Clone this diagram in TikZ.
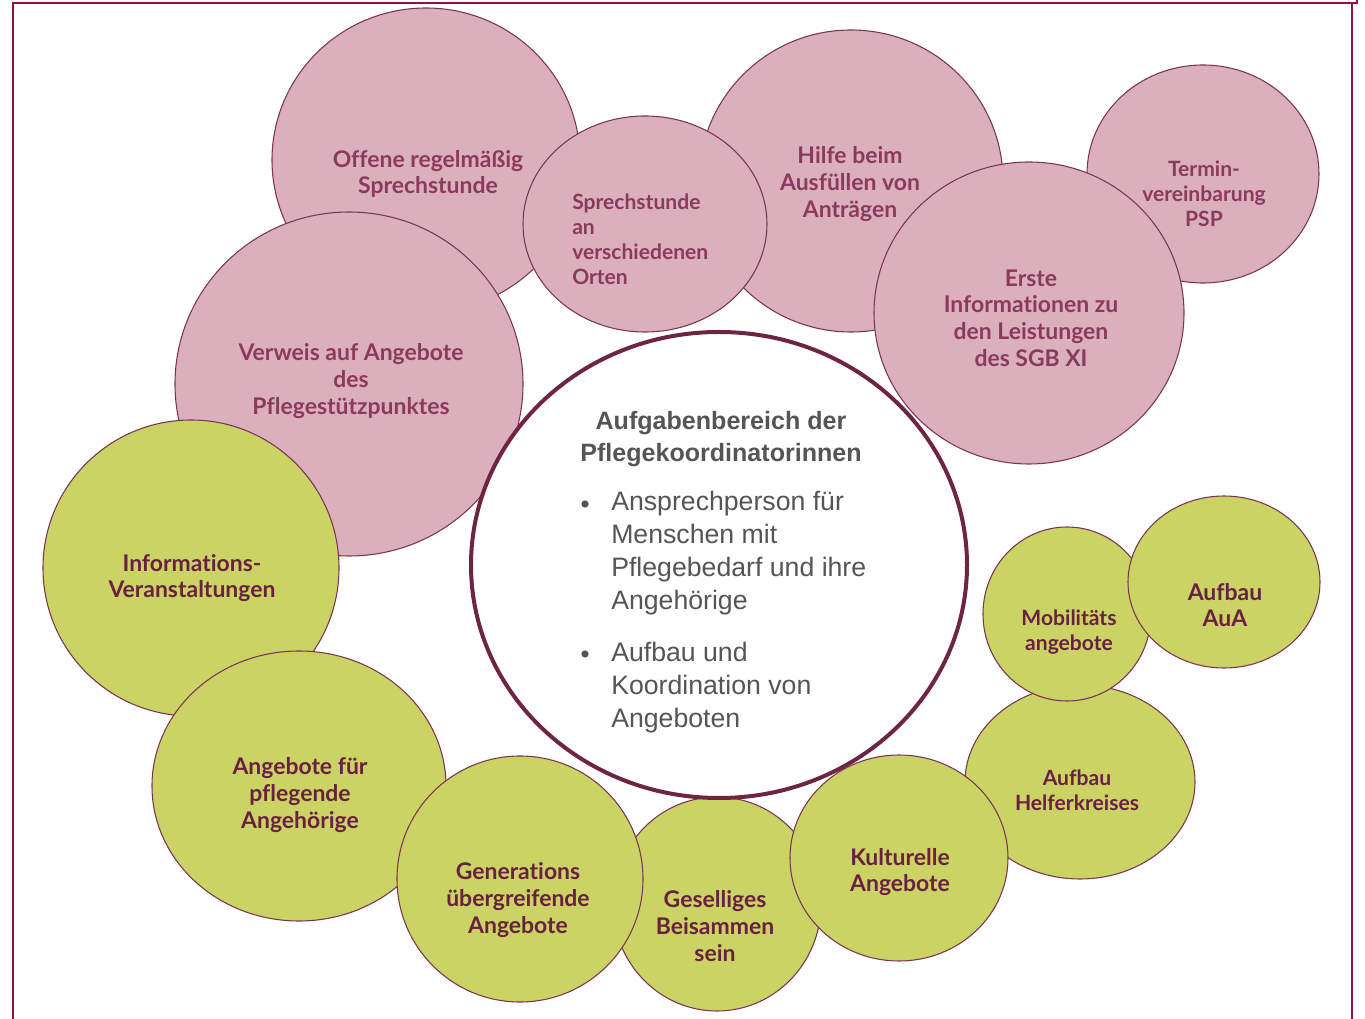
\documentclass[tikz,border=0pt]{standalone}
\usepackage{fontspec}
\setmainfont{Lato}[Ligatures=NoCommon]
\newfontfamily\ctrfont{Liberation Sans}
\definecolor{framec}{HTML}{8E1046}
\definecolor{pinkfill}{HTML}{DBB0BC}
\definecolor{greenfill}{HTML}{CBD364}
\definecolor{edgec}{HTML}{7A3554}
\definecolor{ctredge}{HTML}{6E2444}
\definecolor{pinktext}{HTML}{8A3A5C}
\definecolor{greentext}{HTML}{6A2042}
\definecolor{greytext}{HTML}{555555}
\tikzset{
  pinkc/.style={fill=pinkfill, draw=edgec, line width=0.8pt},
  greenc/.style={fill=greenfill, draw=edgec, line width=0.8pt},
  ctrc/.style={fill=white, draw=ctredge, line width=3pt},
  plabel/.style={text=pinktext, align=center, font=\bfseries\fontsize{17.2}{20}\selectfont, inner sep=0pt},
  glabel/.style={text=greentext, align=center, font=\bfseries\fontsize{17.2}{20}\selectfont, inner sep=0pt},
  smallfont/.style={font=\bfseries\fontsize{15.8}{18.75}\selectfont},
  framel/.style={draw=framec, line width=2pt},
  ctitle/.style={text=greytext, align=center, font=\ctrfont\bfseries\fontsize{18.8}{24}\selectfont, inner sep=0pt},
  cbody/.style={text=greytext, align=left, font=\ctrfont\fontsize{20}{24.75}\selectfont, inner sep=0pt, anchor=north west},
  cbullet/.style={fill=greytext, circle, inner sep=0pt, minimum size=5.5pt}
}
\begin{document}
\begin{tikzpicture}[x=0.75pt, y=-0.75pt]
\useasboundingbox (0,0) rectangle (1365,1019);
% frame
\draw[framel] (13,1019) -- (13,3) -- (1357,3);
\draw[framel] (1352,4) -- (1352,1019);
\draw[draw=framec, line width=1pt] (1357,0) -- (1357,4);
% pink circles
\draw[pinkc] (426,160) ellipse [x radius=154*0.75pt, y radius=152*0.75pt];
\draw[pinkc] (851,181) ellipse [x radius=152*0.75pt, y radius=151*0.75pt];
\draw[pinkc] (645,224) ellipse [x radius=122*0.75pt, y radius=108*0.75pt];
\draw[pinkc] (1203,174) ellipse [x radius=116*0.75pt, y radius=109*0.75pt];
\draw[pinkc] (1029,313) ellipse [x radius=155*0.75pt, y radius=151*0.75pt];
\draw[pinkc] (349,384) ellipse [x radius=174*0.75pt, y radius=172*0.75pt];
% green circles
\draw[greenc] (191,568) ellipse [x radius=148*0.75pt, y radius=148*0.75pt];
\draw[greenc] (299,786) ellipse [x radius=147*0.75pt, y radius=135*0.75pt];
\draw[greenc] (717,904) ellipse [x radius=104*0.75pt, y radius=107*0.75pt];
\draw[greenc] (520,879) ellipse [x radius=123*0.75pt, y radius=123*0.75pt];
\draw[greenc] (1080,782) ellipse [x radius=115*0.75pt, y radius=97*0.75pt];
\draw[greenc] (899,858) ellipse [x radius=109*0.75pt, y radius=103*0.75pt];
\draw[greenc] (1067,614) ellipse [x radius=84*0.75pt, y radius=87*0.75pt];
\draw[greenc] (1224,582) ellipse [x radius=96*0.75pt, y radius=86*0.75pt];
% centre circle
\draw[ctrc] (719,565) ellipse [x radius=248*0.75pt, y radius=233*0.75pt];
% pink labels
\node[plabel] (offene) at (428,174) {Offene regelmäßig\\Sprechstunde};
\node[plabel, smallfont, align=left, anchor=west] (orte) at (572,239.5) {Sprechstunde\\an\\verschiedenen\\Orten};
\node[plabel] (hilfe) at (850,184) {Hilfe beim\\Ausfüllen von\\Anträgen};
\node[plabel, smallfont] (termin) at (1204,193.5) {Termin-\\vereinbarung\\PSP};
\node[plabel] (erste) at (1031,318) {Erste\\Informationen zu\\den Leistungen\\des SGB XI};
\node[plabel] (verweis) at (351,381) {Verweis auf Angebote\\des\\Pflegestützpunktes};
% green labels
\node[glabel] (info) at (192,578) {Informations-\\Veranstaltungen};
\node[glabel] (pflegende) at (300,795) {Angebote für\\pflegende\\Angehörige};
\node[glabel] (gener) at (518,900) {Generations\\übergreifende\\Angebote};
\node[glabel] (gesellig) at (715,926) {Geselliges\\Beisammen\\sein};
\node[glabel] (kultur) at (900,872) {Kulturelle\\Angebote};
\node[glabel, smallfont] (helfer) at (1077,790) {Aufbau\\Helferkreises};
\node[glabel, smallfont] (mobil) at (1069,632) {Mobilitäts\\angebote};
\node[glabel] (aua) at (1225,605) {Aufbau\\AuA};
% centre text
\node[ctitle] (title) at (721,439) {Aufgabenbereich der\\Pflegekoordinatorinnen};
\node[cbullet] (b1) at (585,504) {};
\node[cbody] (t1) at (611,491) {Ansprechperson für\\Menschen mit\\Pflegebedarf und ihre\\Angehörige};
\node[cbullet] (b2) at (585,654) {};
\node[cbody] (t2) at (611,642) {Aufbau und\\Koordination von\\Angeboten};
\end{tikzpicture}
\end{document}
